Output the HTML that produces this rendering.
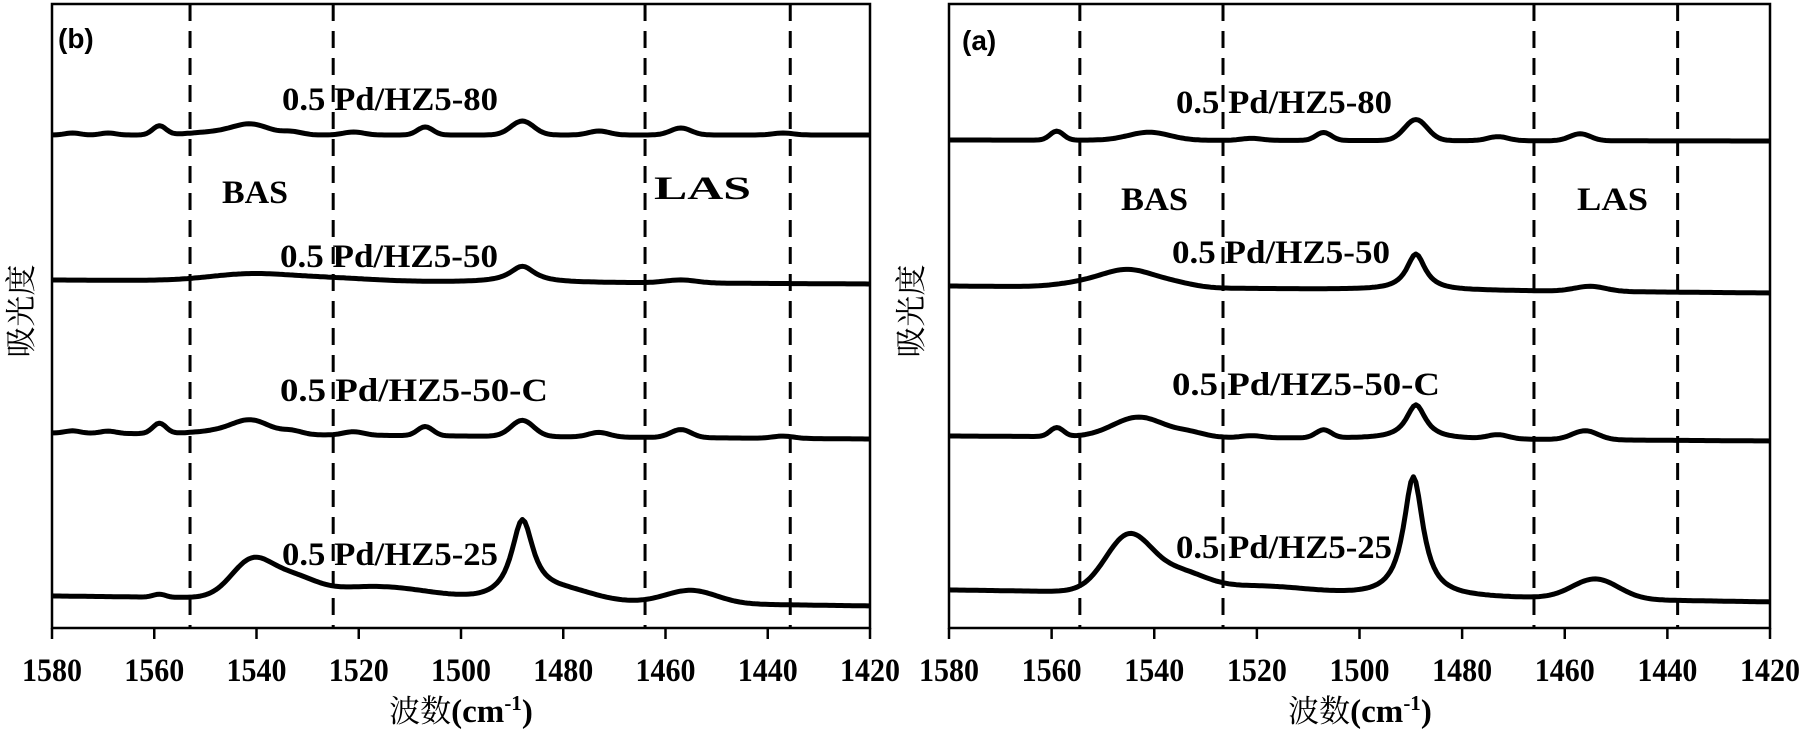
<!DOCTYPE html>
<html><head><meta charset="utf-8"><style>
html,body{margin:0;padding:0;background:#fff}
svg{display:block}
.t{font-family:"Liberation Serif","Noto Serif CJK SC",serif;font-weight:bold;font-size:33px}
.c{font-family:"Liberation Serif","Noto Serif CJK SC",serif;font-size:31px}
.p{font-family:"Liberation Sans",sans-serif;font-weight:bold;font-size:28px}
</style></head><body>
<svg id="s" width="1808" height="738" xmlns="http://www.w3.org/2000/svg">
<g id="g"></g>
<text class="p" x="58" y="48">(b)</text>
<text class="t" x="282" y="110" textLength="216" lengthAdjust="spacingAndGlyphs">0.5 Pd/HZ5-80</text>
<text class="t" x="280" y="267" textLength="218" lengthAdjust="spacingAndGlyphs">0.5 Pd/HZ5-50</text>
<text class="t" x="280" y="401" textLength="268" lengthAdjust="spacingAndGlyphs">0.5 Pd/HZ5-50-C</text>
<text class="t" x="282" y="565" textLength="216" lengthAdjust="spacingAndGlyphs">0.5 Pd/HZ5-25</text>
<text class="t" x="222" y="203" textLength="66" lengthAdjust="spacingAndGlyphs">BAS</text>
<text class="t" x="654" y="199" textLength="97" lengthAdjust="spacingAndGlyphs">LAS</text>
<text class="c" transform="translate(32,311) rotate(-90)" text-anchor="middle">吸光度</text>
<text class="c" x="461" y="722" text-anchor="middle">波数<tspan font-weight="bold" font-size="33">(cm<tspan dy="-12" font-size="21">-1</tspan><tspan dy="12">)</tspan></tspan></text>
<text class="p" x="962" y="50">(a)</text>
<text class="t" x="1176" y="113" textLength="216" lengthAdjust="spacingAndGlyphs">0.5 Pd/HZ5-80</text>
<text class="t" x="1172" y="263" textLength="218" lengthAdjust="spacingAndGlyphs">0.5 Pd/HZ5-50</text>
<text class="t" x="1172" y="395" textLength="268" lengthAdjust="spacingAndGlyphs">0.5 Pd/HZ5-50-C</text>
<text class="t" x="1176" y="558" textLength="216" lengthAdjust="spacingAndGlyphs">0.5 Pd/HZ5-25</text>
<text class="t" x="1121" y="210" textLength="67" lengthAdjust="spacingAndGlyphs">BAS</text>
<text class="t" x="1577" y="210" textLength="71" lengthAdjust="spacingAndGlyphs">LAS</text>
<text class="c" transform="translate(922,311) rotate(-90)" text-anchor="middle">吸光度</text>
<text class="c" x="1360" y="722" text-anchor="middle">波数<tspan font-weight="bold" font-size="33">(cm<tspan dy="-12" font-size="21">-1</tspan><tspan dy="12">)</tspan></tspan></text>
</svg>
<script>
var g=document.getElementById('g'),NS="http://www.w3.org/2000/svg";
function el(t,a){var e=document.createElementNS(NS,t);for(var k in a)e.setAttribute(k,a[k]);g.appendChild(e);return e;}
function panel(x0,x1,top,bot,dashes,curves){
  var sx=function(w){return x0+(1580-w)*(x1-x0)/160;};
  el('rect',{x:x0,y:top,width:x1-x0,height:bot-top,fill:'none',stroke:'#000','stroke-width':2.5});
  for(var w=1580;w>=1420;w-=20){
    var x=sx(w);
    el('line',{x1:x,y1:bot,x2:x,y2:bot+11,stroke:'#000','stroke-width':2.5});
    var t=el('text',{x:x-30,y:681,'class':'t',textLength:60,lengthAdjust:'spacingAndGlyphs'});t.textContent=w;
  }
  dashes.forEach(function(w){var x=sx(w);el('line',{x1:x,y1:top,x2:x,y2:bot,stroke:'#000','stroke-width':3,'stroke-dasharray':'17 10'});});
  curves.forEach(function(c){
    var d='';
    for(var w=1580;w>=1420;w-=0.5){
      var f=(1580-w)/160,y=c.b0+(c.b1-c.b0)*f;
      c.p.forEach(function(p){var u=(w-p[0])/p[2];y-= p[3]?p[1]/(1+u*u):p[1]*Math.exp(-u*u/2);});
      d+=(d?'L':'M')+sx(w).toFixed(1)+' '+y.toFixed(1);
    }
    el('path',{d:d,fill:'none',stroke:'#000','stroke-width':5,'stroke-linejoin':'round'});
  });
}
var wig=[[1576,2,1.5],[1569,2,1.5],[1559,9,1.3],[1541,10,3.5],[1533,3,2],[1521,3,2],[1507,8,1.5],[1488,14,2.2],[1473,4,2],[1457,7,2],[1437,2,2]];
panel(52,870,4,628,[1553,1525,1464,1435.6],[
 {b0:135,b1:135,p:wig.concat([[1548,3,5]])},
 {b0:280,b1:284,p:[[1541,7,8],[1525,3,8],[1488,16,3,1],[1457,3,3]]},
 {b0:433,b1:439,p:wig.map(function(q){return [q[0],q[1]*1.15,q[2]];}).concat([[1545,4,6]])},
 {b0:596,b1:606,p:[[1541,36,4],[1533,18,4.5],[1520,10,9],[1488,78,2.6,1],[1480,10,6],[1455,13,5],[1559,3,1.2],[1510,5,8]]}
]);
panel(949,1770,4,628,[1554.5,1526.6,1466,1438],[
 {b0:140,b1:141,p:[[1559,9,1.3],[1541,8,4],[1521,2,2],[1507,8,1.5],[1489,21,2.2],[1473,4,2],[1457,7,2]]},
 {b0:286,b1:293,p:[[1545,17,5],[1536,4,4],[1554,4,5],[1489,36,2.2,1],[1455,5,3]]},
 {b0:436,b1:441,p:[[1559,9,1.3],[1543,20,5],[1533,4,3],[1521,2,2],[1507,8,1.5],[1489,34,2.3,1],[1473,4,2],[1456,9,2.5]]},
 {b0:590,b1:602,p:[[1545,56,4.5],[1535,18,5],[1520,8,10],[1489.5,120,2.3,1],[1454,20,4.5]]}
]);
</script>
</body></html>
